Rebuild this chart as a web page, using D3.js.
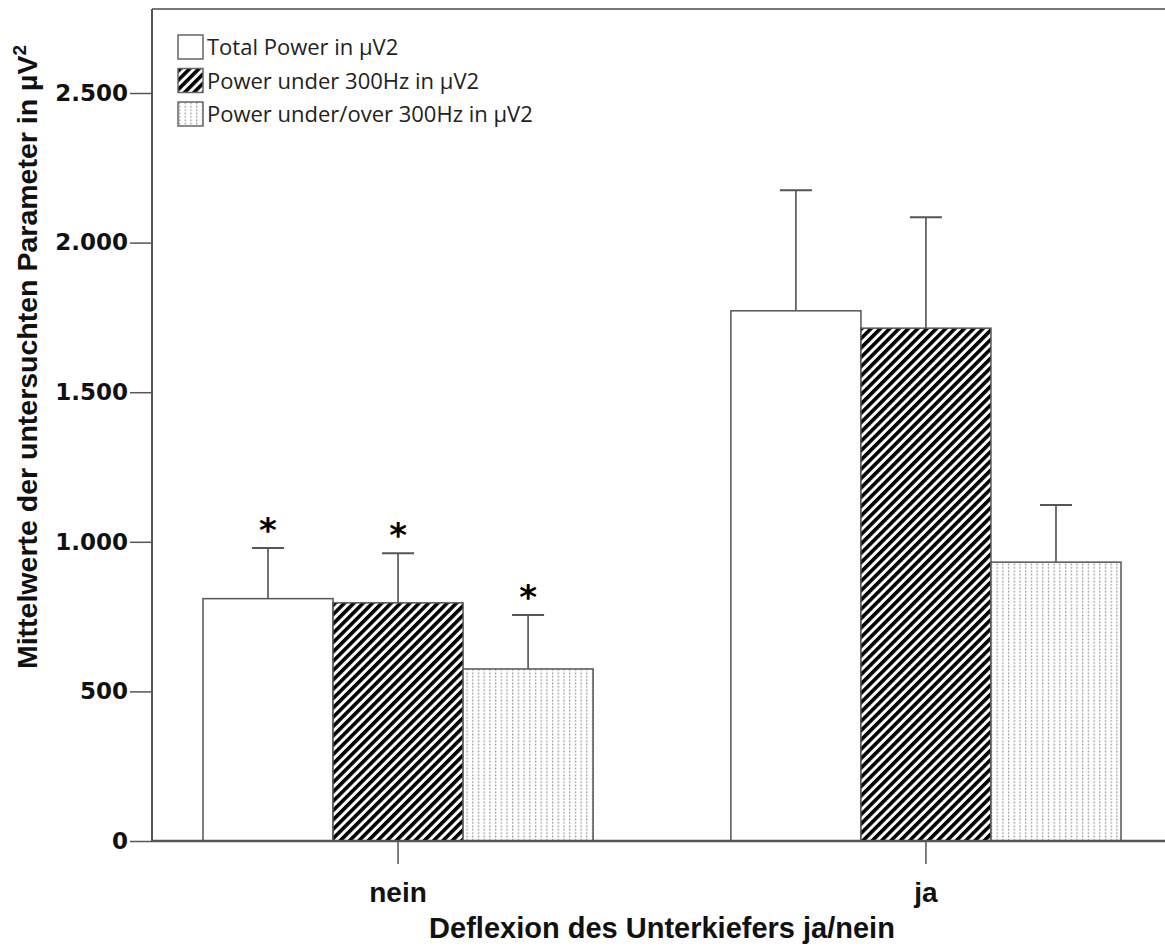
<!DOCTYPE html>
<html>
<head>
<meta charset="utf-8">
<script src="https://cdn.jsdelivr.net/npm/d3@7"></script>
<style>
  body { margin: 0; background: #fff; }
  svg { display: block; }
</style>
</head>
<body>
<svg id="chart" width="1165" height="947"></svg>
<script>
// groups on the x axis
var groups = ["nein", "ja"];
// series (legend order)
var seriesNames = ["Total Power in µV2", "Power under 300Hz in µV2", "Power under/over 300Hz in µV2"];
// mean values per group, one array per series
var totalPower = [810, 1772];
var powerUnder = [796, 1714];
var powerUnderOver = [575, 932];
// upper error bar ends
var totalErr = [979, 2175];
var underErr = [962, 2085];
var underOverErr = [755, 1123];
// significance markers
var stars = [true, false];
var yTicks = [0, 500, 1000, 1500, 2000, 2500];

var svg = d3.select("#chart");
var margin = {left: 152, top: 9, right: 0, bottom: 106};
var width = 1165 - margin.left - margin.right;
var height = 947 - margin.top - margin.bottom;
var narrow = "Liberation Sans Narrow, Liberation Sans";

// patterns
var defs = svg.append("defs");
var hatch = defs.append("pattern")
    .attr("id", "hatch")
    .attr("patternUnits", "userSpaceOnUse")
    .attr("width", 6.6).attr("height", 6.6)
    .attr("patternTransform", "rotate(45)");
hatch.append("rect").attr("width", 6.6).attr("height", 6.6).attr("fill", "#fff");
hatch.append("rect").attr("width", 3.6).attr("height", 6.6).attr("fill", "#000");

var dots = defs.append("pattern")
    .attr("id", "dots")
    .attr("patternUnits", "userSpaceOnUse")
    .attr("width", 5.7).attr("height", 3.4);
dots.append("rect").attr("width", 5.7).attr("height", 3.4).attr("fill", "#fff");
dots.append("rect").attr("x", 1).attr("y", 0.5).attr("width", 1.2).attr("height", 1.6).attr("fill", "#8a8a8a");

var fills = ["#fff", "url(#hatch)", "url(#dots)"];

var g = svg.append("g").attr("transform", "translate(" + margin.left + "," + margin.top + ")");

var y = d3.scaleLinear().domain([0, 2500]).range([height, height - 748]);
// the frame runs a little past the right edge of the picture
var x0 = d3.scaleBand().domain(groups).range([0, 1020]).paddingInner(0.261).paddingOuter(0.0966);
var x1 = d3.scaleBand().domain(d3.range(3)).range([0, x0.bandwidth()]).padding(0);

// top frame line
g.append("line").attr("x1", 0).attr("x2", width).attr("y1", 0).attr("y2", 0)
    .attr("stroke", "#777").attr("stroke-width", 2);

var values = [totalPower, powerUnder, powerUnderOver];
var errs = [totalErr, underErr, underOverErr];

var barData = [];
groups.forEach(function (grp, gi) {
    values.forEach(function (vals, si) {
        barData.push({group: grp, s: si, v: vals[gi], e: errs[si][gi], star: stars[gi]});
    });
});

var cx = d => x0(d.group) + x1(d.s) + x1.bandwidth() / 2;

// error bars (drawn behind bars)
var eb = g.selectAll(".err").data(barData).join("g").attr("class", "err");
eb.append("line")
    .attr("x1", cx).attr("x2", cx)
    .attr("y1", d => y(d.v)).attr("y2", d => y(d.e))
    .attr("stroke", "#444").attr("stroke-width", 1.5);
eb.append("line")
    .attr("x1", d => cx(d) - 16).attr("x2", d => cx(d) + 16)
    .attr("y1", d => y(d.e)).attr("y2", d => y(d.e))
    .attr("stroke", "#555").attr("stroke-width", 2);

g.selectAll(".bar").data(barData).join("rect")
    .attr("class", "bar")
    .attr("x", d => x0(d.group) + x1(d.s))
    .attr("width", x1.bandwidth())
    .attr("y", d => y(d.v))
    .attr("height", d => y(0) - y(d.v))
    .attr("fill", d => fills[d.s])
    .attr("stroke", "#555").attr("stroke-width", 1.5);

g.selectAll(".star").data(barData.filter(d => d.star)).join("text")
    .attr("class", "star")
    .attr("x", cx)
    .attr("y", d => y(d.e) - 6)
    .attr("text-anchor", "middle")
    .attr("font-family", "DejaVu Sans").attr("font-weight", "bold")
    .attr("font-size", 34)
    .text("*");

// y axis
var yAxis = g.append("g").call(d3.axisLeft(y).tickValues(yTicks).tickSize(22)
    .tickFormat(d => d3.format(",")(d).replace(",", ".")));
yAxis.select(".domain").remove();
yAxis.selectAll(".tick line").attr("stroke", "#555").attr("stroke-width", 1.5);
yAxis.selectAll(".tick text")
    .attr("font-family", "DejaVu Sans").attr("font-weight", "bold")
    .attr("font-size", 23).attr("fill", "#111").attr("x", -24);
g.append("line").attr("x1", 0).attr("x2", 0).attr("y1", 0).attr("y2", height)
    .attr("stroke", "#555").attr("stroke-width", 2);

// x axis
var xAxis = g.append("g").attr("transform", "translate(0," + height + ")")
    .call(d3.axisBottom(x0).tickSize(23).tickPadding(14));
xAxis.select(".domain").remove();
xAxis.selectAll(".tick line").attr("stroke", "#555").attr("stroke-width", 1.5);
xAxis.selectAll(".tick text")
    .attr("font-family", narrow).attr("font-weight", "bold")
    .attr("font-size", 28).attr("fill", "#111").attr("dy", "0.85em");
g.append("line").attr("x1", 0).attr("x2", width).attr("y1", height).attr("y2", height)
    .attr("stroke", "#555").attr("stroke-width", 2.5);

// axis titles
svg.append("text")
    .attr("x", 662).attr("y", 938)
    .attr("text-anchor", "middle")
    .attr("font-family", narrow).attr("font-weight", "bold")
    .attr("font-size", 29).attr("fill", "#111")
    .text("Deflexion des Unterkiefers ja/nein");

var yt = svg.append("text")
    .attr("transform", "translate(37,357) rotate(-90)")
    .attr("text-anchor", "middle")
    .attr("font-family", narrow).attr("font-weight", "bold")
    .attr("font-size", 28.5).attr("fill", "#111");
yt.append("tspan").text("Mittelwerte der untersuchten Parameter  in µV");
yt.append("tspan").attr("dy", -11).attr("font-size", 19).text("2");

// legend
var legend = svg.append("g").attr("transform", "translate(178,35)");
var li = legend.selectAll(".li").data(seriesNames).join("g")
    .attr("transform", (d, i) => "translate(0," + i * 33.5 + ")");
li.append("rect").attr("width", 25).attr("height", 24)
    .attr("fill", (d, i) => fills[i]).attr("stroke", "#666").attr("stroke-width", 1.5);
li.append("text").attr("x", 29).attr("y", 20)
    .attr("font-family", "Open Sans").attr("font-size", 22).attr("fill", "#222")
    .text(d => d);
</script>
</body>
</html>
